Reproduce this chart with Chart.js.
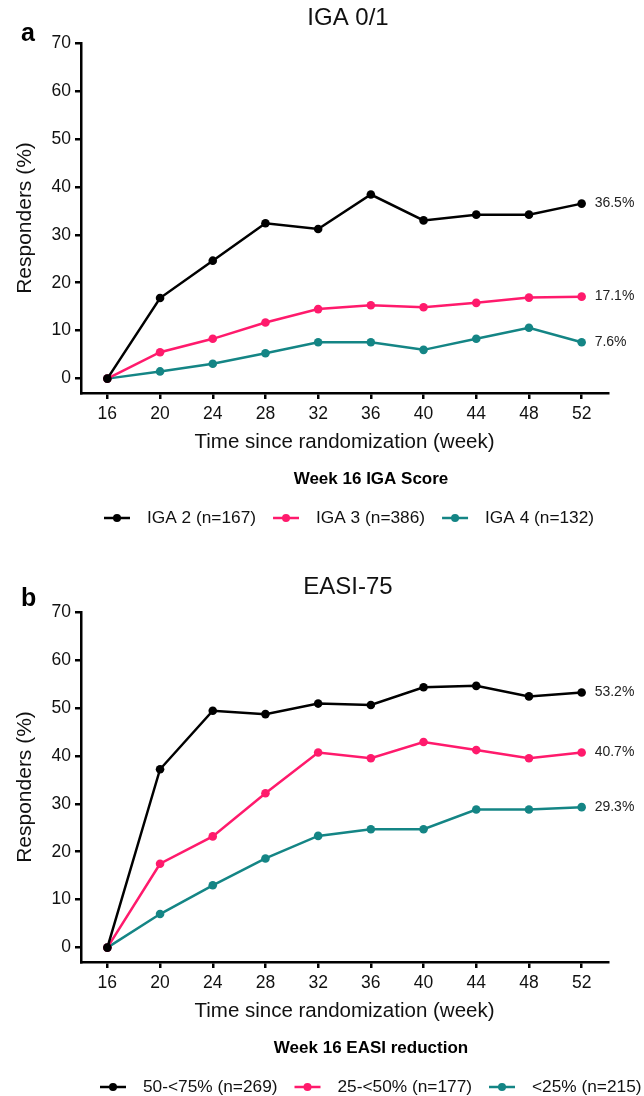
<!DOCTYPE html>
<html>
<head>
<meta charset="utf-8">
<script src="https://cdn.jsdelivr.net/npm/chart.js@4.4.0/dist/chart.umd.min.js"></script>
<style>
  html, body { margin: 0; padding: 0; background: #fff; overflow: hidden; }
  canvas { display: block; }
</style>
</head>
<body>
<canvas id="IgaChart" width="644" height="569"></canvas>
<canvas id="EasiChart" width="644" height="527"></canvas>
<script>
const FONT = '"Liberation Sans", Arial, Helvetica, sans-serif';

// shared axes
const weeks = [16, 20, 24, 28, 32, 36, 40, 44, 48, 52];
const yTicks = [0, 10, 20, 30, 40, 50, 60, 70];
const colors = ['#000000', '#ff1a6c', '#148585'];

// panel a - IGA 0/1
const igaLabels = ['IGA 2 (n=167)', 'IGA 3 (n=386)', 'IGA 4 (n=132)'];
const iga2 = [0, 16.8, 24.6, 32.4, 31.2, 38.4, 33.0, 34.2, 34.2, 36.5];
const iga3 = [0, 5.5, 8.3, 11.7, 14.5, 15.3, 14.9, 15.8, 16.9, 17.1];
const iga4 = [0, 1.5, 3.1, 5.3, 7.6, 7.6, 6.0, 8.3, 10.6, 7.6];

// panel b - EASI-75
const easiLabels = ['50-<75% (n=269)', '25-<50% (n=177)', '<25% (n=215)'];
const easi50 = [0, 37.2, 49.4, 48.7, 50.9, 50.6, 54.3, 54.6, 52.4, 53.2];
const easi25 = [0, 17.5, 23.2, 32.2, 40.7, 39.5, 42.9, 41.2, 39.5, 40.7];
const easi0 = [0, 7.0, 13.0, 18.6, 23.3, 24.7, 24.7, 28.8, 28.8, 29.3];

// titles, end labels, bold legend title and legend with line+dot
const panelText = {
    id: 'panelText',
    afterDraw(chart, args, o) {
        const ctx = chart.ctx;
        const a = chart.chartArea;
        ctx.save();
        ctx.textBaseline = 'middle';

        ctx.font = '14px ' + FONT;
        ctx.fillStyle = '#222';
        ctx.textAlign = 'left';
        chart.data.datasets.forEach((ds, i) => {
            const pts = chart.getDatasetMeta(i).data;
            const last = pts[pts.length - 1];
            const v = ds.data[ds.data.length - 1].y;
            ctx.fillText(v.toFixed(1) + '%', last.x + 13, last.y);
        });

        ctx.fillStyle = '#000';
        ctx.textBaseline = 'alphabetic';
        ctx.font = 'bold 25px ' + FONT;
        ctx.fillText(o.letter, 21, o.letterY);

        ctx.textBaseline = 'middle';
        ctx.textAlign = 'center';
        ctx.font = '24px ' + FONT;
        ctx.fillStyle = '#111';
        ctx.fillText(o.title, 348, 18);

        ctx.font = 'bold 17px ' + FONT;
        ctx.fillStyle = '#000';
        ctx.fillText(o.legendTitle, 371, a.bottom + 86);

        ctx.textAlign = 'left';
        ctx.font = '17.3px ' + FONT;
        const y = a.bottom + 125;
        let x = o.legendX;
        chart.data.datasets.forEach(ds => {
            ctx.strokeStyle = ds.borderColor;
            ctx.fillStyle = ds.borderColor;
            ctx.lineWidth = 2.5;
            ctx.beginPath();
            ctx.moveTo(x, y);
            ctx.lineTo(x + 26, y);
            ctx.stroke();
            ctx.beginPath();
            ctx.arc(x + 13, y, 4, 0, Math.PI * 2);
            ctx.fill();
            x += 26 + 17;
            ctx.fillStyle = '#111';
            ctx.fillText(ds.label, x, y);
            x += ctx.measureText(ds.label).width + 17;
        });
        ctx.restore();
    }
};

function makeDataset(label, values, color) {
    return {
        label: label,
        data: weeks.map((w, i) => ({x: w, y: values[i]})),
        borderColor: color,
        backgroundColor: color,
        borderWidth: 2.5,
        pointRadius: 4.3,
        pointBorderWidth: 0,
        pointBackgroundColor: color,
        tension: 0
    };
}

function axisStyle() {
    return {
        grid: {drawOnChartArea: false, drawTicks: true, tickLength: 6, color: '#000', lineWidth: 2.5},
        border: {display: true, color: '#000', width: 2.5}
    };
}

function makeConfig(labels, series, text, height) {
    return {
        type: 'line',
        data: {
            datasets: series.map((s, i) => makeDataset(labels[i], s, colors[i]))
        },
        options: {
            responsive: false,
            animation: false,
            layout: {padding: {top: 43, left: 13, right: 36, bottom: height - 393 - 62}},
            plugins: {legend: {display: false}, tooltip: {enabled: false}, panelText: text},
            scales: {
                x: {
                    type: 'linear', min: 14, max: 54,
                    afterFit(s) { s.height = 62; },
                    afterBuildTicks(s) { s.ticks = weeks.map(v => ({value: v})); },
                    ticks: {font: {family: FONT, size: 17.5}, color: '#111', padding: 5, autoSkip: false, maxRotation: 0},
                    title: {display: true, text: 'Time since randomization (week)', font: {family: FONT, size: 20.5}, color: '#111', padding: 0},
                    ...axisStyle()
                },
                y: {
                    type: 'linear', min: -3, max: 70,
                    afterFit(s) { s.width = 68; },
                    afterBuildTicks(s) { s.ticks = yTicks.map(v => ({value: v})); },
                    ticks: {font: {family: FONT, size: 17.5}, color: '#111', padding: 4},
                    title: {display: true, text: 'Responders (%)', font: {family: FONT, size: 21}, color: '#111', padding: 0},
                    ...axisStyle()
                }
            }
        },
        plugins: [panelText]
    };
}

new Chart(document.getElementById('IgaChart'), makeConfig(igaLabels, [iga2, iga3, iga4],
    {letter: 'a', letterY: 41, title: 'IGA 0/1', legendTitle: 'Week 16 IGA Score', legendX: 104}, 569));

new Chart(document.getElementById('EasiChart'), makeConfig(easiLabels, [easi50, easi25, easi0],
    {letter: 'b', letterY: 37, title: 'EASI-75', legendTitle: 'Week 16 EASI reduction', legendX: 100}, 527));
</script>
</body>
</html>
